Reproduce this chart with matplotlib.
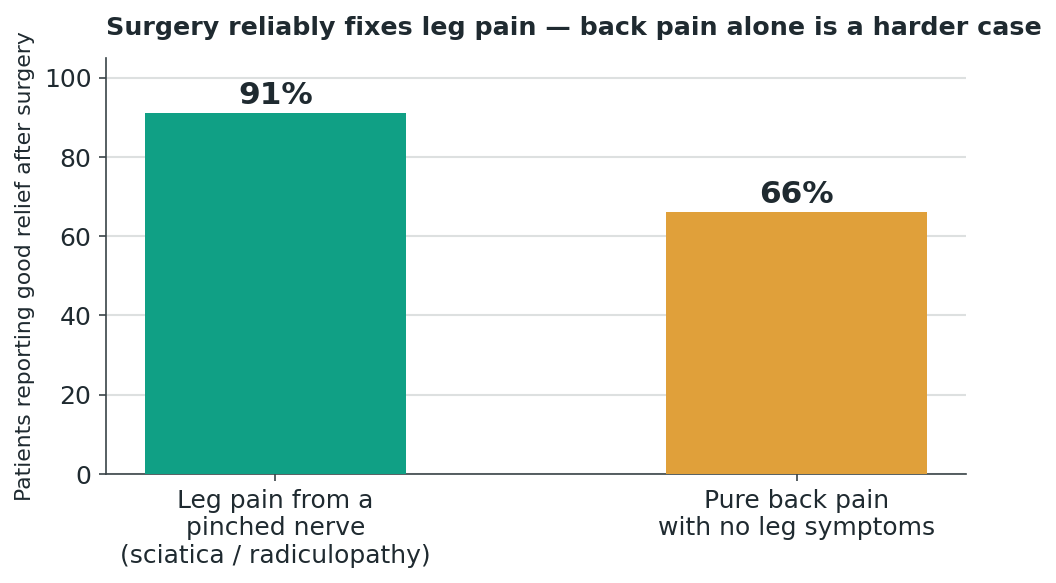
import matplotlib
matplotlib.use('Agg')
import matplotlib.pyplot as plt
import numpy as np

categories = ['Leg pain from a\npinched nerve\n(sciatica / radiculopathy)',
              'Pure back pain\nwith no leg symptoms']
values = [91, 66]
labels = ['91%', '66%']
colors = ['#10a085', '#e0a03a']

ink = '#1f2a30'

fig = plt.figure(figsize=(7.04, 3.887), dpi=150)
ax = fig.add_axes([0.1004, 0.187, 0.8144, 0.7135])

x = np.arange(len(categories))
bars = ax.bar(x, values, width=0.5, color=colors, zorder=3)

for b, lab in zip(bars, labels):
	ax.text(b.get_x() + b.get_width() / 2, b.get_height() + 0.8, lab,
	        ha='center', va='bottom', fontsize=15, fontweight='bold', color=ink)

ax.set_ylim(0, 105)
ax.set_yticks([0, 20, 40, 60, 80, 100])
ax.set_xticks(x)
ax.set_xticklabels(categories)
ax.tick_params(colors='#3a4448', labelcolor=ink, labelsize=12)
ax.set_ylabel('Patients reporting good relief after surgery', fontsize=10.5, color=ink)

ax.grid(axis='y', color='#dde0e0', linewidth=1, zorder=0)
ax.spines['top'].set_visible(False)
ax.spines['right'].set_visible(False)
ax.spines['left'].set_color('#3a4448')
ax.spines['bottom'].set_color('#3a4448')

ax.set_title('Surgery reliably fixes leg pain \u2014 back pain alone is a harder case',
             loc='left', fontsize=12.2, fontweight='bold', color=ink, pad=11)

fig.savefig('out.png', dpi=150)
